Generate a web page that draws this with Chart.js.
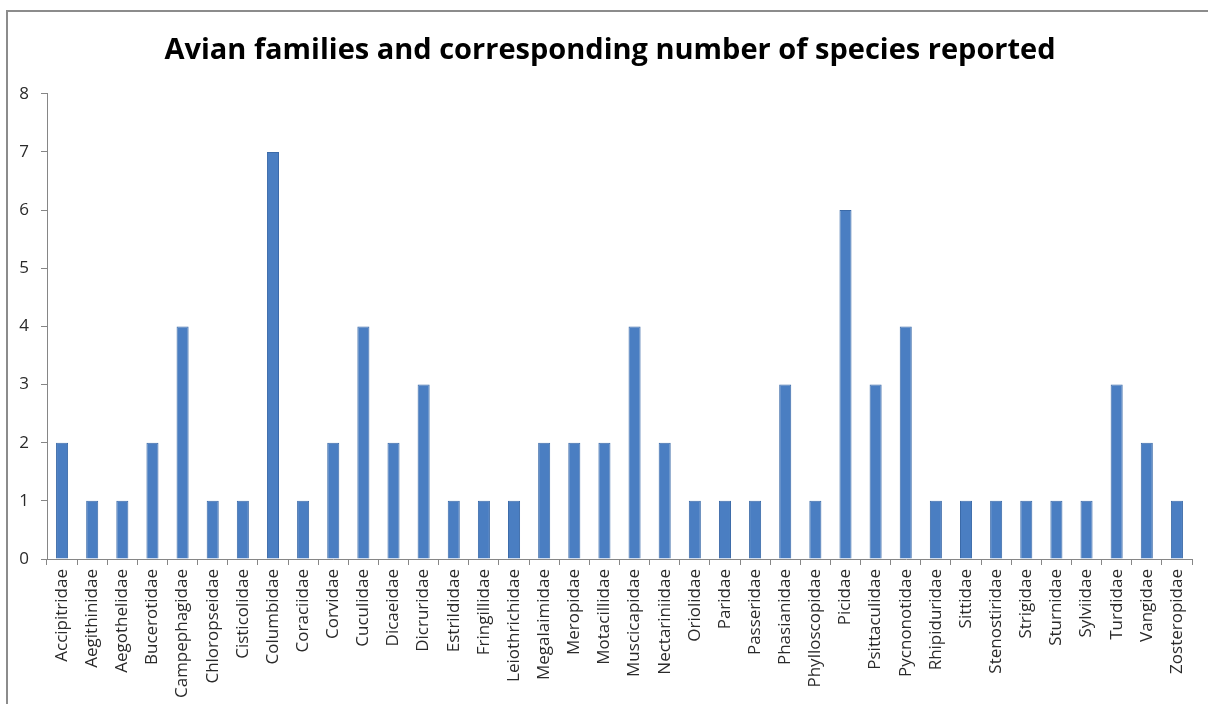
<!DOCTYPE html>
<html>
<head>
<meta charset="utf-8">
<script src="https://cdn.jsdelivr.net/npm/chart.js@4/dist/chart.umd.min.js"></script>
<style>
  html, body { margin: 0; padding: 0; background: #fff; overflow: hidden; }
  #wrap { position: absolute; left: 0; top: 0; width: 1208px; height: 704px; }
  #frame { position: absolute; left: 6px; top: 10px; width: 1300px; height: 800px;
           border-left: 2px solid #8c8c8c; border-top: 2px solid #8c8c8c; }
  canvas { position: absolute; left: 0; top: 0; }
</style>
</head>
<body>
<div id="wrap">
  <div id="frame"></div>
  <canvas id="c" width="1208" height="704"></canvas>
</div>
<script>
const families = [
  'Accipitridae', 'Aegithinidae', 'Aegothelidae', 'Bucerotidae', 'Campephagidae',
  'Chloropseidae', 'Cisticolidae', 'Columbidae', 'Coraciidae', 'Corvidae',
  'Cuculidae', 'Dicaeidae', 'Dicruridae', 'Estrildidae', 'Fringillidae',
  'Leiothrichidae', 'Megalaimidae', 'Meropidae', 'Motacillidae', 'Muscicapidae',
  'Nectariniidae', 'Oriolidae', 'Paridae', 'Passeridae', 'Phasianidae',
  'Phylloscopidae', 'Picidae', 'Psittaculidae', 'Pycnonotidae', 'Rhipiduridae',
  'Sittidae', 'Stenostiridae', 'Strigidae', 'Sturnidae', 'Sylviidae',
  'Turdidae', 'Vangidae', 'Zosteropidae'
];
const speciesCount = [
  2, 1, 1, 2, 4,
  1, 1, 7, 1, 2,
  4, 2, 3, 1, 1,
  1, 2, 2, 2, 4,
  2, 1, 1, 1, 3,
  1, 6, 3, 4, 1,
  1, 1, 1, 1, 1,
  3, 2, 1
];
const yTicks = [0, 1, 2, 3, 4, 5, 6, 7, 8];
const titleText = 'Avian families and corresponding number of species reported';

// nudge the title to sit centred on the framed panel
const titleShift = {
  id: 'titleShift',
  afterLayout(chart) {
    const t = chart.titleBlock;
    if (t) { t.left += 14; t.right += 14; }
  }
};

const ctx = document.getElementById('c').getContext('2d');
new Chart(ctx, {
  type: 'bar',
  data: {
    labels: families,
    datasets: [{
      data: speciesCount,
      backgroundColor: '#4a7ec2',
      borderColor: '#3b6aa8',
      borderWidth: 1,
      barPercentage: 0.4,
      categoryPercentage: 1.0
    }]
  },
  plugins: [titleShift],
  options: {
    responsive: false,
    animation: false,
    devicePixelRatio: 1,
    layout: { padding: { left: 0, right: 16, top: 0, bottom: 0 } },
    plugins: {
      legend: { display: false },
      tooltip: { enabled: false },
      title: {
        display: true,
        text: titleText,
        color: '#000',
        font: { family: 'Open Sans', size: 29, weight: 'bold' },
        padding: { top: 33, bottom: 26 }
      }
    },
    scales: {
      x: {
        offset: true,
        grid: { display: true, drawOnChartArea: false, offset: true, tickLength: 6, color: '#868686' },
        border: { display: true, color: '#868686', width: 1 },
        ticks: {
          autoSkip: false,
          minRotation: 90,
          maxRotation: 90,
          color: '#2a2a2a',
          padding: 4,
          font: { family: 'Open Sans', size: 17 }
        },
        afterFit(scale) { scale.height = 145; }
      },
      y: {
        min: 0,
        max: 8,
        afterBuildTicks(scale) { scale.ticks = yTicks.map(v => ({ value: v })); },
        grid: { display: true, drawOnChartArea: false, tickLength: 6, color: '#868686' },
        border: { display: true, color: '#868686', width: 1 },
        ticks: {
          color: '#2a2a2a',
          padding: 12,
          font: { family: 'Open Sans', size: 17 }
        },
        afterFit(scale) { scale.width = 47; }
      }
    }
  }
});
</script>
</body>
</html>
